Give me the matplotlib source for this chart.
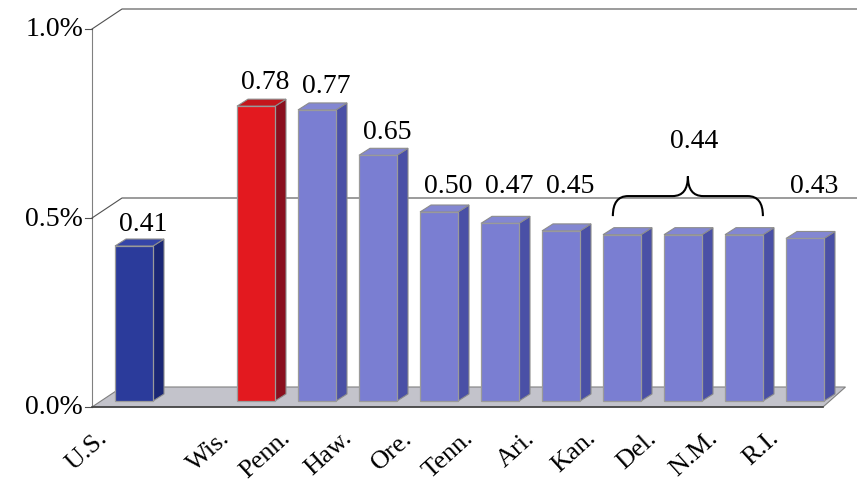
import matplotlib.pyplot as plt
from matplotlib.patches import Polygon, PathPatch
from matplotlib.path import Path

plt.rcParams['font.family'] = ['Liberation Serif', 'DejaVu Serif']

states = ['U.S.', 'Wis.', 'Penn.', 'Haw.', 'Ore.', 'Tenn.', 'Ari.', 'Kan.', 'Del.', 'N.M.', 'R.I.']
rates = [0.41, 0.78, 0.77, 0.65, 0.50, 0.47, 0.45, 0.44, 0.44, 0.44, 0.43]
yticks = [0.0, 0.5, 1.0]
ytick_labels = ['0.0%', '0.5%', '1.0%']
group = ['Kan.', 'Del.', 'N.M.']   # shared label with a brace
group_value = 0.44

# bar colours: (front, side, top)
shades = {
    'U.S.': ('#2b3b9b', '#1b2775', '#3545a8'),
    'Wis.': ('#e3191f', '#8a0f1e', '#c4161c'),
    'other': ('#7a7ed2', '#4a50a6', '#8387d2'),
}

# one slot = 61 px, one unit of rate = 378 px
sx, sy = 61.0, 378.0
fig = plt.figure(figsize=(8.57, 4.85), dpi=100)
ax = fig.add_axes([0, 0, 1, 1])
ax.set_xlim(-134 / sx, (857 - 134) / sx)
ax.set_ylim(-77 / sy, 408 / sy)
ax.axis('off')

# leave an empty slot after U.S.
pos = [0] + list(range(2, len(states) + 1))

x_axis = -42 / sx
wdx, wdy = 30 / sx, 20 / sy        # depth of floor / back wall
bdx, bdy = 11 / sx, 7 / sy         # depth of each bar
base = 6 / sy
half = 19 / sx
x_floor_end = pos[-1] + 18 / sx

# back wall gridlines and front axis
ax.plot([x_axis, x_axis], [0, 1.0], color='#808080', lw=0.8, zorder=1)
for t, lab in zip(yticks, ytick_labels):
    if t > 0:
        ax.plot([x_axis, x_axis + wdx, ax.get_xlim()[1]], [t, t + wdy, t + wdy],
                color='#505050', lw=0.8, zorder=1)
    ax.plot([x_axis - 7 / sx, x_axis], [t, t], color='#505050', lw=0.8, zorder=1)
    ax.text(x_axis - 9 / sx, t, lab, ha='right', va='center', fontsize=20)

# floor
floor = Polygon([(x_axis, 0), (x_floor_end, 0), (x_floor_end + wdx * 0.75, wdy), (x_axis + wdx, wdy)],
                closed=True, facecolor='#c3c3cb', edgecolor='#808080', lw=0.8, zorder=2)
ax.add_patch(floor)
ax.plot([x_axis, x_floor_end], [0, 0], color='#404040', lw=1.2, zorder=2)

for name, p, v in zip(states, pos, rates):
    front, side, top = shades.get(name, shades['other'])
    x0, x1 = p - half, p + half
    y0, y1 = base, base + v
    ax.add_patch(Polygon([(x1, y0), (x1 + bdx, y0 + bdy), (x1 + bdx, y1 + bdy), (x1, y1)],
                         facecolor=side, edgecolor='#8c8c8c', lw=0.8, zorder=3))
    ax.add_patch(Polygon([(x0, y1), (x0 + bdx, y1 + bdy), (x1 + bdx, y1 + bdy), (x1, y1)],
                         facecolor=top, edgecolor='#8c8c8c', lw=0.8, zorder=3))
    ax.add_patch(Polygon([(x0, y0), (x1, y0), (x1, y1), (x0, y1)],
                         facecolor=front, edgecolor='#9a9a9a', lw=0.9, zorder=4))
    if name == 'U.S.':
        ax.text(p + 0.15, v + 0.075, f'{v:.2f}', ha='center', va='center', fontsize=20)
    elif name not in group:
        # state labels are lifted above the 0.5% line
        ax.text(p + 0.15, max(v + 0.08, 0.585), f'{v:.2f}', ha='center', va='center', fontsize=20)
    ax.text(p - 0.36, -19 / sy, name, rotation=42, ha='right', va='top', fontsize=19)

# brace over the group of equal values
g = [pos[states.index(n)] for n in group]
bx0, bx1 = g[0] - 0.15, g[-1] + 0.31
bxc = (bx0 + bx1) / 2
y_end, y_mid, y_tip = 0.505, 0.558, 0.61
r = 0.25
verts = [(bx0, y_end), (bx0, y_mid), (bx0 + r, y_mid),
         (bxc - r, y_mid), (bxc, y_mid), (bxc, y_tip),
         (bxc, y_mid), (bxc + r, y_mid),
         (bx1 - r, y_mid), (bx1, y_mid), (bx1, y_end)]
codes = [Path.MOVETO, Path.CURVE3, Path.CURVE3,
         Path.LINETO, Path.CURVE3, Path.CURVE3,
         Path.CURVE3, Path.CURVE3,
         Path.LINETO, Path.CURVE3, Path.CURVE3]
ax.add_patch(PathPatch(Path(verts, codes), facecolor='none', edgecolor='black', lw=1.5, zorder=5))
ax.text(bxc + 0.1, 0.706, f'{group_value:.2f}', ha='center', va='center', fontsize=20)

plt.savefig('out.png', dpi=100)
